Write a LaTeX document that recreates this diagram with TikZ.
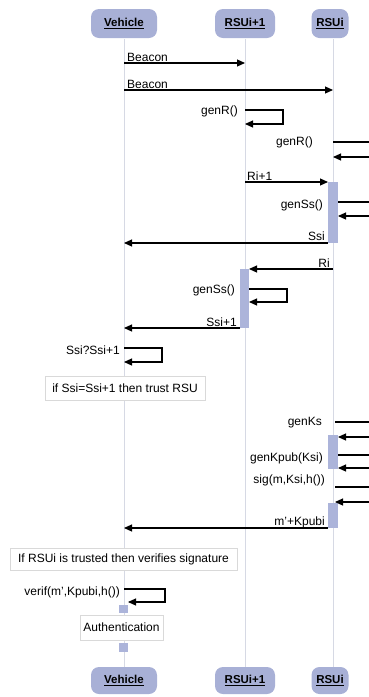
\documentclass[tikz,border=0pt]{standalone}
\usepackage{fontspec}
\setmainfont{Liberation Sans}
\usetikzlibrary{arrows.meta}
\definecolor{boxblue}{RGB}{168,176,214}
\definecolor{lifegray}{RGB}{214,217,228}
\definecolor{barblue}{RGB}{172,180,218}
\tikzset{
  actor/.style={fill=boxblue, rounded corners=8pt, minimum height=29pt,
    inner sep=0pt, font=\fontsize{11.5}{13}\selectfont\bfseries},
  lifeline/.style={draw=lifegray, line width=1pt},
  msg/.style={-{Triangle[length=8pt,width=7pt]}, line width=1.1pt},
  lbl/.style={inner sep=1pt, font=\fontsize{12}{14}\selectfont},
  actbar/.style={fill=barblue},
  note/.style={draw=black!15, fill=white, inner sep=2pt,
    font=\fontsize{12}{14}\selectfont}
}
\begin{document}
\begin{tikzpicture}[x=1pt,y=-1pt]
\useasboundingbox (0,0) rectangle (368,697);

% actors
\node[actor, minimum width=66pt] (veh) at (124,23.5) {\underline{Vehicle}};
\node[actor, minimum width=60pt] (rsua) at (245,23.5) {\underline{RSUi+1}};
\node[actor, minimum width=37pt] (rsub) at (330,23.5) {\underline{RSUi}};
\node[actor, minimum width=66pt, minimum height=27pt] (vehb) at (124,680.5) {\underline{Vehicle}};
\node[actor, minimum width=60pt, minimum height=27pt] (rsuab) at (245,680.5) {\underline{RSUi+1}};
\node[actor, minimum width=37pt, minimum height=27pt] (rsubb) at (330,680.5) {\underline{RSUi}};

\coordinate (vt) at (124,39);
\coordinate (vb) at (124,667);
\coordinate (at) at (245,39);
\coordinate (ab) at (245,667);
\coordinate (bt) at (333,39);
\coordinate (bb) at (333,667);

\draw[lifeline] (vt) -- (vb);
\draw[lifeline] (at) -- (ab);
\draw[lifeline] (bt) -- (bb);

% activation bars
\fill[actbar] (328,182) rectangle (338,243);
\fill[actbar] (240,269) rectangle (249,328);
\fill[actbar] (328,435) rectangle (338,469);
\fill[actbar] (328,503) rectangle (338,528);
\fill[actbar] (119,605) rectangle (128,613);
\fill[actbar] (119,643) rectangle (128,652);

% beacons
\coordinate (bc1s) at (124,63);
\coordinate (bc1e) at (245,63);
\coordinate (bc2s) at (124,90);
\coordinate (bc2e) at (333,90);
\draw[msg] (bc1s) -- (bc1e);
\draw[msg] (bc2s) -- (bc2e);
\node[lbl, anchor=west] (lbc1) at (126,57) {Beacon};
\node[lbl, anchor=west] (lbc2) at (126,84) {Beacon};

% random numbers
\coordinate (gra) at (245,110);
\coordinate (grb) at (245,124);
\draw[msg] (gra) -- ++(38,0) |- (grb);
\node[lbl, anchor=east] (lgra) at (239,111) {genR()};
\coordinate (grc) at (333,142);
\coordinate (grd) at (333,157);
\draw[msg] (grc) -- ++(45,0) |- (grd);
\node[lbl, anchor=east] (lgrc) at (314,142) {genR()};

\coordinate (ri1s) at (245,182);
\coordinate (ri1e) at (328,182);
\draw[msg] (ri1s) -- (ri1e);
\node[lbl, anchor=west] (lri1) at (246,176) {Ri+1};

\coordinate (gsa) at (338,202);
\coordinate (gsb) at (338,216);
\draw[msg] (gsa) -- ++(40,0) |- (gsb);
\node[lbl, anchor=east] (lgsa) at (324,205) {genSs()};

\coordinate (ssis) at (328,243);
\coordinate (ssie) at (124,243);
\draw[msg] (ssis) -- (ssie);
\node[lbl, anchor=east] (lssi) at (326,236) {Ssi};

\coordinate (ris) at (333,269);
\coordinate (rie) at (249,269);
\draw[msg] (ris) -- (rie);
\node[lbl, anchor=east] (lri) at (331,263) {Ri};

\coordinate (gsc) at (249,289);
\coordinate (gsd) at (249,302);
\draw[msg] (gsc) -- ++(38,0) |- (gsd);
\node[lbl, anchor=east] (lgsc) at (236,290) {genSs()};

\coordinate (ss1s) at (240,328);
\coordinate (ss1e) at (124,328);
\draw[msg] (ss1s) -- (ss1e);
\node[lbl, anchor=east] (lss1) at (238,322) {Ssi+1};

\coordinate (cmpa) at (124,348);
\coordinate (cmpb) at (124,362);
\draw[msg] (cmpa) -- ++(38,0) |- (cmpb);
\node[lbl, anchor=east] (lcmp) at (121,350) {Ssi?Ssi+1};

\node[note, minimum width=160pt, minimum height=24pt] (trust) at (125,388) {if Ssi=Ssi+1 then trust RSU};

% keys and signature
\coordinate (gka) at (335,422);
\coordinate (gkb) at (338,437);
\draw[msg] (gka) -- ++(43,0) |- (gkb);
\node[lbl, anchor=east] (lgk) at (323,423) {genKs};

\coordinate (gpa) at (338,455);
\coordinate (gpb) at (338,468);
\draw[msg] (gpa) -- ++(40,0) |- (gpb);
\node[lbl, anchor=east] (lgp) at (324,458) {genKpub(Ksi)};

\coordinate (sga) at (335,487);
\coordinate (sgb) at (335,502);
\draw[msg] (sga) -- ++(43,0) |- (sgb);
\node[lbl, anchor=east] (lsg) at (326,480) {sig(m,Ksi,h())};

\coordinate (mks) at (328,528);
\coordinate (mke) at (124,528);
\draw[msg] (mks) -- (mke);
\node[lbl, anchor=east] (lmk) at (326,522) {m'+Kpubi};

\node[note, minimum width=227pt, minimum height=22pt] (verinote) at (123.5,559) {If RSUi is trusted then verifies signature};

\coordinate (vra) at (124,589);
\coordinate (vrb) at (128,602);
\draw[msg] (vra) -- ++(41,0) |- (vrb);
\node[lbl, anchor=east] (lvr) at (121,592) {verif(m',Kpubi,h())};

\node[note, minimum width=83pt, minimum height=25pt] (auth) at (121.5,627.5) {Authentication};
\end{tikzpicture}
\end{document}
